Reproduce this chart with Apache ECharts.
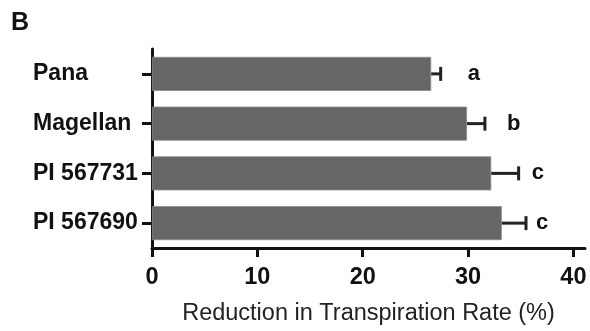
<!DOCTYPE html>
<html>
<head>
<meta charset="utf-8">
<script src="https://cdn.jsdelivr.net/npm/echarts@6/dist/echarts.min.js"></script>
<style>html,body{margin:0;padding:0;background:#fff}#c{width:590px;height:331px}</style>
</head>
<body>
<div id="c"></div>
<script>
// Data
const categories = ['Pana', 'Magellan', 'PI 567731', 'PI 567690'];
const means = [26.5, 29.9, 32.2, 33.2];
const errors = [0.9, 1.7, 2.6, 2.3];
const groupLetters = ['a', 'b', 'c', 'c'];
const xTickValues = [0, 10, 20, 30, 40];
const xAxisName = 'Reduction in Transpiration Rate (%)';
const panelLabel = 'B';

// label nudges (px) right of the error-bar cap
const letterNudge = [27, 22, 13, 10];

const FONT = '"Liberation Sans", Arial, sans-serif';
const chart = echarts.init(document.getElementById('c'), null, {renderer: 'canvas'});

chart.setOption({
  animation: false,
  title: {
    text: panelLabel, left: 6, top: 6,
    textStyle: {fontFamily: FONT, fontWeight: 'bold', fontSize: 25, color: '#111'}
  },
  grid: {left: 152, right: 5, top: 49, bottom: 80, containLabel: false},
  xAxis: {
    type: 'value', min: 0, max: 41.1,
    name: xAxisName, nameLocation: 'middle', nameGap: 54,
    nameTextStyle: {fontFamily: FONT, fontSize: 23.5, color: '#222'},
    axisLine: {show: true, lineStyle: {color: '#111', width: 3}},
    axisTick: {show: true, length: 9, lineStyle: {color: '#111', width: 3}, customValues: xTickValues},
    axisLabel: {fontFamily: FONT, fontWeight: 'bold', fontSize: 23.5, color: '#111', margin: 18, customValues: xTickValues},
    splitLine: {show: false}
  },
  yAxis: {
    type: 'category', data: categories, inverse: true,
    axisLine: {show: true, lineStyle: {color: '#111', width: 3}},
    axisTick: {show: true, alignWithLabel: true, length: 10, lineStyle: {color: '#111', width: 3}},
    axisLabel: {fontFamily: FONT, fontWeight: 'bold', fontSize: 23, color: '#111', align: 'left', margin: 119}
  },
  series: [
    {
      type: 'bar', data: means, barWidth: 34,
      itemStyle: {color: '#666666', borderColor: '#8a8a8a', borderWidth: 0.8},
      z: 2
    },
    {
      type: 'custom',
      data: means.map((m, i) => [m, errors[i], i]),
      encode: {x: 0, y: 2},
      z: 3,
      renderItem: function (params, api) {
        const m = api.value(0), e = api.value(1), idx = api.value(2);
        const p0 = api.coord([m, idx]);
        const p1 = api.coord([m + e, idx]);
        const half = 7;
        const st = {stroke: '#222', lineWidth: 3};
        return {
          type: 'group',
          children: [
            {type: 'line', shape: {x1: p0[0], y1: p0[1], x2: p1[0], y2: p1[1]}, style: st},
            {type: 'line', shape: {x1: p1[0], y1: p1[1] - half, x2: p1[0], y2: p1[1] + half}, style: st},
            {type: 'text', x: p1[0] + letterNudge[idx], y: p1[1],
              style: {text: groupLetters[idx], fontFamily: FONT, fontWeight: 'bold', fontSize: 22,
                fill: '#111', align: 'left', verticalAlign: 'middle'}}
          ]
        };
      }
    }
  ]
});
</script>
</body>
</html>
